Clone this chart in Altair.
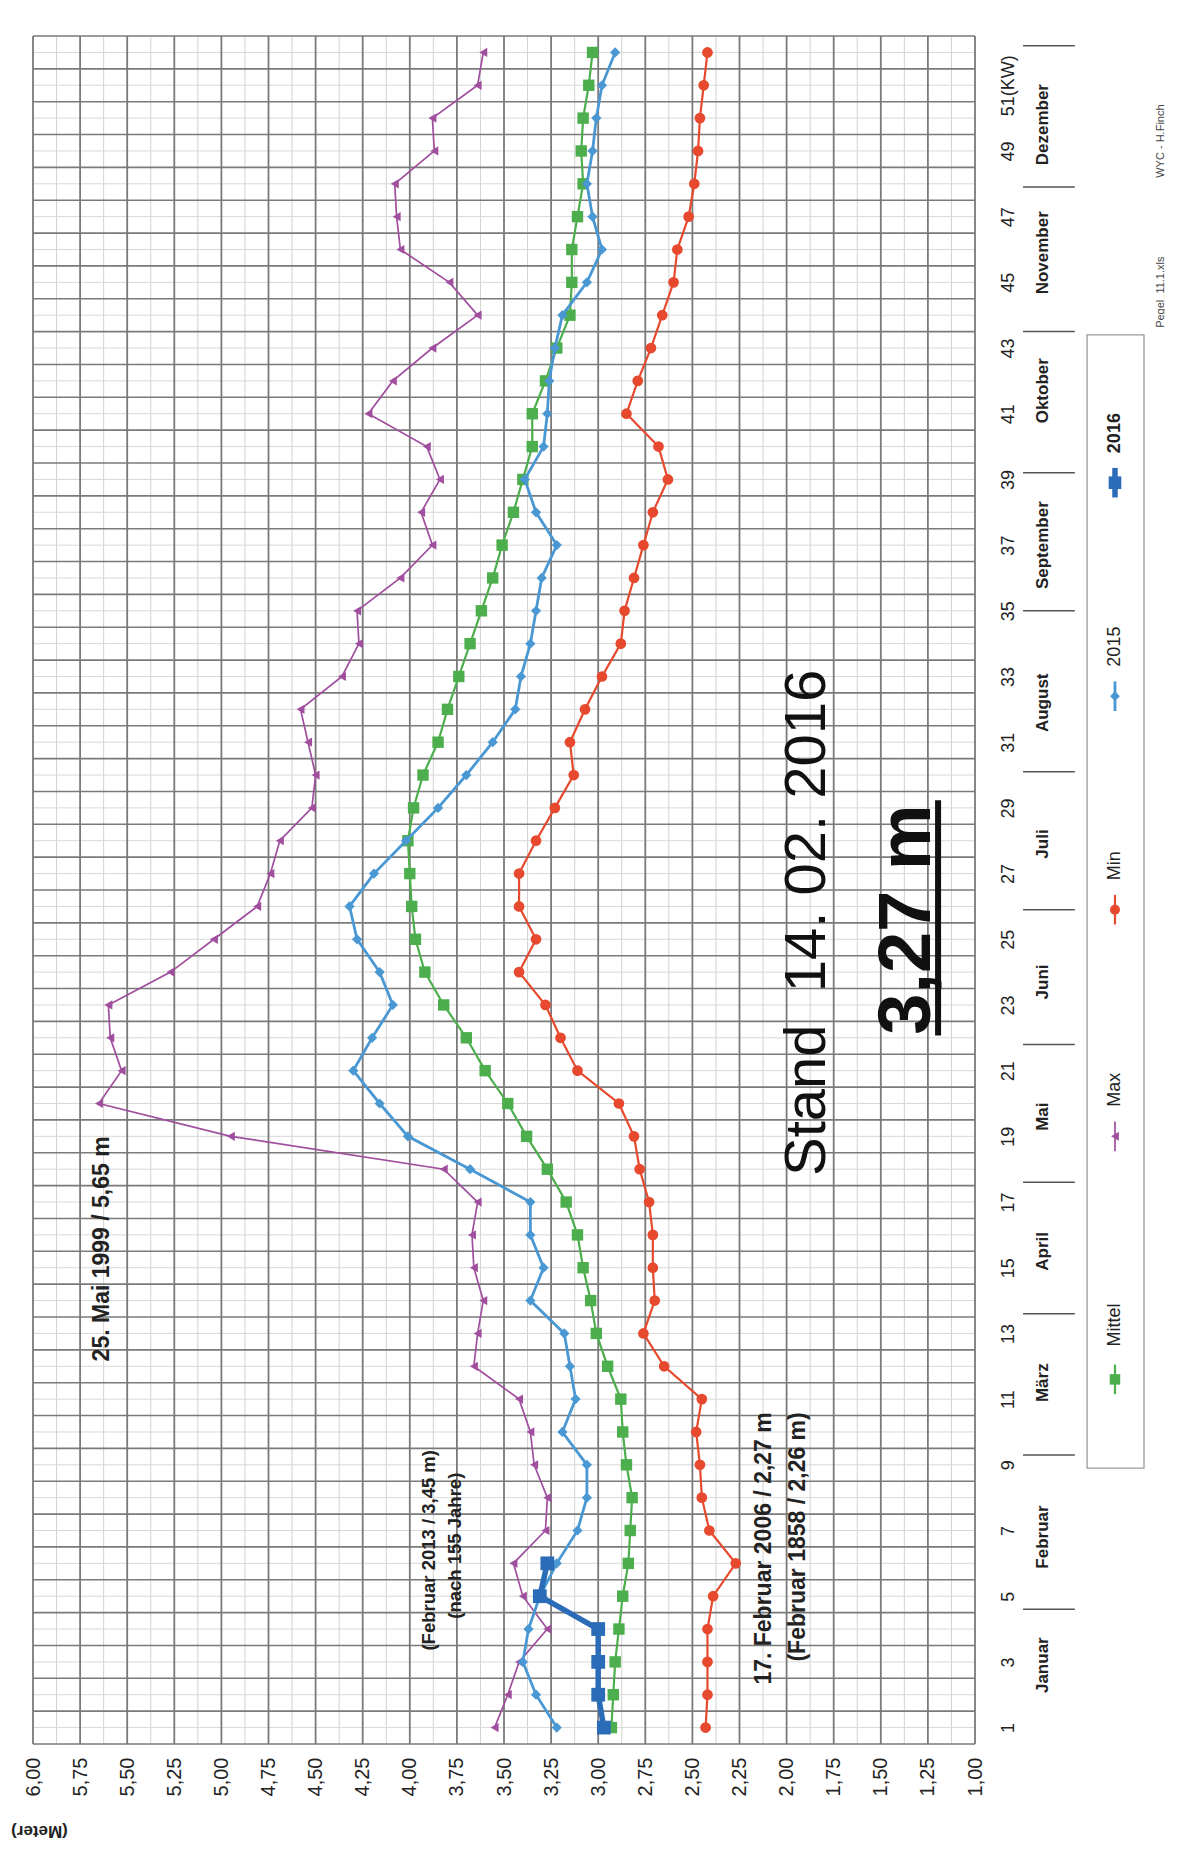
import altair as alt
import pandas as pd
import numpy as np

# ---------------- data ----------------
weeks = list(range(1, 53))

max_vals = [3.55, 3.48, 3.42, 3.27, 3.40, 3.45, 3.28, 3.27, 3.34, 3.36,
            3.42, 3.66, 3.64, 3.61, 3.66, 3.67, 3.64, 3.82, 4.95, 5.65,
            5.53, 5.59, 5.60, 5.27, 5.04, 4.81, 4.74, 4.69, 4.52, 4.50,
            4.54, 4.58, 4.36, 4.27, 4.28, 4.05, 3.88, 3.94, 3.84, 3.91,
            4.22, 4.09, 3.88, 3.64, 3.79, 4.05, 4.07, 4.08, 3.87, 3.88,
            3.64, 3.61]

mittel_vals = [2.93, 2.92, 2.91, 2.89, 2.87, 2.84, 2.83, 2.82, 2.85, 2.87,
               2.88, 2.95, 3.01, 3.04, 3.08, 3.11, 3.17, 3.27, 3.38, 3.48,
               3.60, 3.70, 3.82, 3.92, 3.97, 3.99, 4.00, 4.01, 3.98, 3.93,
               3.85, 3.80, 3.74, 3.68, 3.62, 3.56, 3.51, 3.45, 3.40, 3.35,
               3.35, 3.28, 3.22, 3.15, 3.14, 3.14, 3.11, 3.08, 3.09, 3.08,
               3.05, 3.03]

min_vals = [2.43, 2.42, 2.42, 2.42, 2.39, 2.27, 2.41, 2.45, 2.46, 2.48,
            2.45, 2.65, 2.76, 2.70, 2.71, 2.71, 2.73, 2.78, 2.81, 2.89,
            3.11, 3.20, 3.28, 3.42, 3.33, 3.42, 3.42, 3.33, 3.23, 3.13,
            3.15, 3.07, 2.98, 2.88, 2.86, 2.81, 2.76, 2.71, 2.63, 2.68,
            2.85, 2.79, 2.72, 2.66, 2.60, 2.58, 2.52, 2.49, 2.47, 2.46,
            2.44, 2.42]

y2015_vals = [3.22, 3.33, 3.40, 3.37, 3.31, 3.22, 3.11, 3.06, 3.06, 3.19,
              3.12, 3.15, 3.18, 3.36, 3.29, 3.36, 3.36, 3.68, 4.01, 4.16,
              4.30, 4.20, 4.09, 4.16, 4.28, 4.32, 4.19, 4.02, 3.85, 3.70,
              3.56, 3.44, 3.41, 3.36, 3.33, 3.30, 3.22, 3.33, 3.39, 3.29,
              3.27, 3.26, 3.23, 3.19, 3.06, 2.98, 3.03, 3.06, 3.03, 3.01,
              2.98, 2.91]

weeks_2016 = [1, 2, 3, 4, 5, 6]
y2016_vals = [2.97, 3.00, 3.00, 3.00, 3.31, 3.27]

value_ticks = [1.0, 1.25, 1.5, 1.75, 2.0, 2.25, 2.5, 2.75, 3.0, 3.25, 3.5,
               3.75, 4.0, 4.25, 4.5, 4.75, 5.0, 5.25, 5.5, 5.75, 6.0]
week_ticks = list(range(1, 52, 2))

month_names = ["Januar", "Februar", "März", "April", "Mai", "Juni", "Juli",
               "August", "September", "Oktober", "November", "Dezember"]
month_centers = [2.9, 6.8, 11.5, 15.5, 19.6, 23.7, 27.9, 32.2, 37.0, 41.7, 45.9, 49.8]
month_bounds = [4.6, 9.3, 13.6, 17.6, 21.8, 25.9, 30.1, 35.0, 39.2, 43.5, 47.9, 52.2]

legend_names = ["Mittel", "Max", "Min", "2015", "2016"]

# ---------------- scales / axes ----------------
XS = alt.Scale(domain=[1, 6], reverse=True, nice=False, zero=False)
YS = alt.Scale(domain=[0.5, 52.5], nice=False, zero=False)
FONT = "Liberation Sans"
NARROW = "Liberation Sans Narrow, Liberation Sans"

C_MAX = "#a04e9e"
C_MIT = "#4cae4c"
C_MIN = "#e6492e"
C_15 = "#4a98d3"
C_16 = "#2b6cb8"

x_axis = alt.Axis(
    values=value_ticks,
    labelExpr="replace(format(datum.value, '.2f'), '.', ',')",
    labelAngle=270, labelAlign="right", labelBaseline="middle",
    labelPadding=13, labelFontSize=20, labelColor="#222", labelFont=NARROW,
    labelFlush=False, labelOverlap=False,
    ticks=False, domain=False, grid=False,
    title="(Meter)", titleAngle=180, titleX=6, titleY=86,
    titleAlign="center", titleBaseline="middle",
    titleFontSize=17, titleFontWeight="bold", titleColor="#222",
)
y_axis = alt.Axis(
    orient="right", values=week_ticks,
    labelExpr="datum.value == 51 ? '51(KW)' : datum.label",
    labelAngle=270, labelAlign="center", labelBaseline="middle",
    labelPadding=33, labelFontSize=18, labelColor="#222", labelFont=NARROW,
    labelFlush=False, labelOverlap=False,
    ticks=False, domain=False, grid=False, title=None,
)


def xq(field="v"):
    return alt.X(f"{field}:Q", scale=XS, axis=x_axis)


def yq(field="week"):
    return alt.Y(f"{field}:Q", scale=YS, axis=y_axis)


# ---------------- grid ----------------
grid_v_major = pd.DataFrame({"v": value_ticks})
grid_v_minor = pd.DataFrame({"v": [t + 0.125 for t in value_ticks[:-1]]})
grid_h_major = pd.DataFrame({"week": list(np.arange(0.5, 52.51, 1.0))})
grid_h_minor = pd.DataFrame({"week": weeks})

g_vmin = alt.Chart(grid_v_minor).mark_rule(color="#d2d2d2", strokeWidth=1).encode(x=xq())
g_hmin = alt.Chart(grid_h_minor).mark_rule(color="#d8d8d8", strokeWidth=1).encode(y=yq())
g_vmaj = alt.Chart(grid_v_major).mark_rule(color="#7a7a7a", strokeWidth=1.8).encode(x=xq())
g_hmaj = alt.Chart(grid_h_major).mark_rule(color="#7a7a7a", strokeWidth=1.6).encode(y=yq())


# ---------------- series ----------------
def series(wk, vals, color, shape, size, sw):
    d = pd.DataFrame({"week": wk, "v": vals})
    base = alt.Chart(d).encode(x=xq(), y=yq(), order=alt.Order("week:Q"))
    line = base.mark_line(color=color, strokeWidth=sw)
    pts = base.mark_point(shape=shape, size=size, filled=True, color=color, opacity=1)
    return line + pts


s_max = series(weeks, max_vals, C_MAX, "triangle-left", 85, 1.7)
s_min = series(weeks, min_vals, C_MIN, "circle", 115, 2.2)
s_mit = series(weeks, mittel_vals, C_MIT, "square", 130, 2.2)
s_15 = series(weeks, y2015_vals, C_15, "diamond", 105, 2.8)
s_16 = series(weeks_2016, y2016_vals, C_16, "square", 190, 5.5)

# ---------------- month band ----------------
MONTH_X = 0.64
months = alt.Chart(pd.DataFrame({"week": month_centers, "v": MONTH_X, "t": month_names})).mark_text(
    angle=270, align="center", baseline="middle", fontSize=17, font=NARROW, fontWeight="bold", color="#222"
).encode(x=xq(), y=yq(), text="t:N")

sep = alt.Chart(pd.DataFrame({"week": month_bounds, "v": 0.745, "v2": 0.47})).mark_rule(
    color="#555", strokeWidth=1.5
).encode(x=xq(), x2="v2:Q", y=yq())

# ---------------- legend (drawn by hand, rotated) ----------------
LEG_X = 0.257
leg_box = alt.Chart(pd.DataFrame({"v": [0.405], "v2": [0.103], "week": [8.9], "week2": [43.4]})).mark_rect(
    fillOpacity=0, stroke="#9a9a9a", strokeWidth=1.3
).encode(x=xq(), x2="v2:Q", y=yq(), y2="week2:Q")

leg_sym_c = [11.6, 19.0, 25.9, 32.4, 38.9]
leg_txt_w = [12.6, 19.9, 26.8, 33.3, 39.8]
leg_cols = [C_MIT, C_MAX, C_MIN, C_15, C_16]
leg_shapes = ["square", "triangle-left", "circle", "diamond", "square"]
leg_sizes = [110, 80, 100, 95, 160]
leg_sw = [2.2, 1.7, 2.2, 2.8, 5.5]

leg_layers = []
for c, col, shp, sz, sw in zip(leg_sym_c, leg_cols, leg_shapes, leg_sizes, leg_sw):
    d = pd.DataFrame({"v": [LEG_X], "week": [c - 0.45], "week2": [c + 0.45], "wc": [c]})
    leg_layers.append(alt.Chart(d).mark_rule(color=col, strokeWidth=sw).encode(x=xq(), y=yq(), y2="week2:Q"))
    leg_layers.append(alt.Chart(d).mark_point(shape=shp, size=sz, filled=True, color=col, opacity=1).encode(
        x=xq(), y=yq("wc")))

leg_txt = alt.Chart(pd.DataFrame({"v": LEG_X, "week": leg_txt_w[:4], "t": legend_names[:4]})).mark_text(
    angle=270, align="left", baseline="middle", fontSize=18, font=NARROW, color="#222"
).encode(x=xq(), y=yq(), text="t:N")
leg_txt16 = alt.Chart(pd.DataFrame({"v": [LEG_X], "week": [leg_txt_w[4]], "t": [legend_names[4]]})).mark_text(
    angle=270, align="left", baseline="middle", fontSize=18, font=FONT, fontWeight="bold", color="#222"
).encode(x=xq(), y=yq(), text="t:N")

credits = alt.Chart(pd.DataFrame({"v": [0.013, 0.013], "week": [44.7, 49.3],
                                  "t": ["Pegel_11.1.xls", "WYC - H.Finch"]})).mark_text(
    angle=270, align="center", baseline="middle", fontSize=11, font=NARROW, color="#444"
).encode(x=xq(), y=yq(), text="t:N")

# ---------------- annotations ----------------
ann_big = alt.Chart(pd.DataFrame({"v": [1.796], "week": [25.5], "t": ["Stand\u00a0\u00a014.\u00a002.\u00a02016"]})).mark_text(
    angle=270, align="center", baseline="alphabetic", fontSize=58, font=FONT, color="#111"
).encode(x=xq(), y=yq(), text="t:N")

ann_val = alt.Chart(pd.DataFrame({"v": [1.239], "week": [25.6], "t": ["3,27 m"]})).mark_text(
    angle=270, align="center", baseline="alphabetic", fontSize=74, font=FONT, fontWeight="bold", color="#111"
).encode(x=xq(), y=yq(), text="t:N")

underline = alt.Chart(pd.DataFrame({"v": [1.196], "week": [22.07], "week2": [29.23]})).mark_rule(
    color="#111", strokeWidth=6
).encode(x=xq(), y=yq(), y2="week2:Q")

ann_small = alt.Chart(pd.DataFrame({
    "v": [5.634, 2.120, 1.940],
    "week": [19.0, 10.6, 10.6],
    "t": ["25. Mai 1999 / 5,65 m", "17. Februar 2006 / 2,27 m", "(Februar 1858 / 2,26 m)"],
})).mark_text(
    angle=270, align="right", baseline="middle", fontSize=23, font=NARROW, fontWeight="bold", color="#222"
).encode(x=xq(), y=yq(), text="t:N")

ann_2013 = alt.Chart(pd.DataFrame({
    "v": [3.898, 3.76],
    "week": [9.45, 8.76],
    "t": ["(Februar 2013 / 3,45 m)", "(nach 155 Jahre)"],
})).mark_text(
    angle=270, align="right", baseline="middle", fontSize=18.5, font=NARROW, fontWeight="bold", color="#222"
).encode(x=xq(), y=yq(), text="t:N")

chart = alt.layer(
    g_vmin, g_hmin, g_vmaj, g_hmaj,
    s_max, s_min, s_mit, s_15, s_16,
    sep, months, leg_box, *leg_layers, leg_txt, leg_txt16, credits,
    ann_big, ann_val, underline, ann_small, ann_2013,
).properties(
    width=942, height=1708,
    autosize=alt.AutoSizeParams(type="none"),
    padding={"left": 25, "top": 28, "right": 190, "bottom": 104},
    background="white",
).configure(font=FONT).configure_view(stroke=None)

chart.save("out.html", embed_options={"renderer": "svg", "actions": False})
